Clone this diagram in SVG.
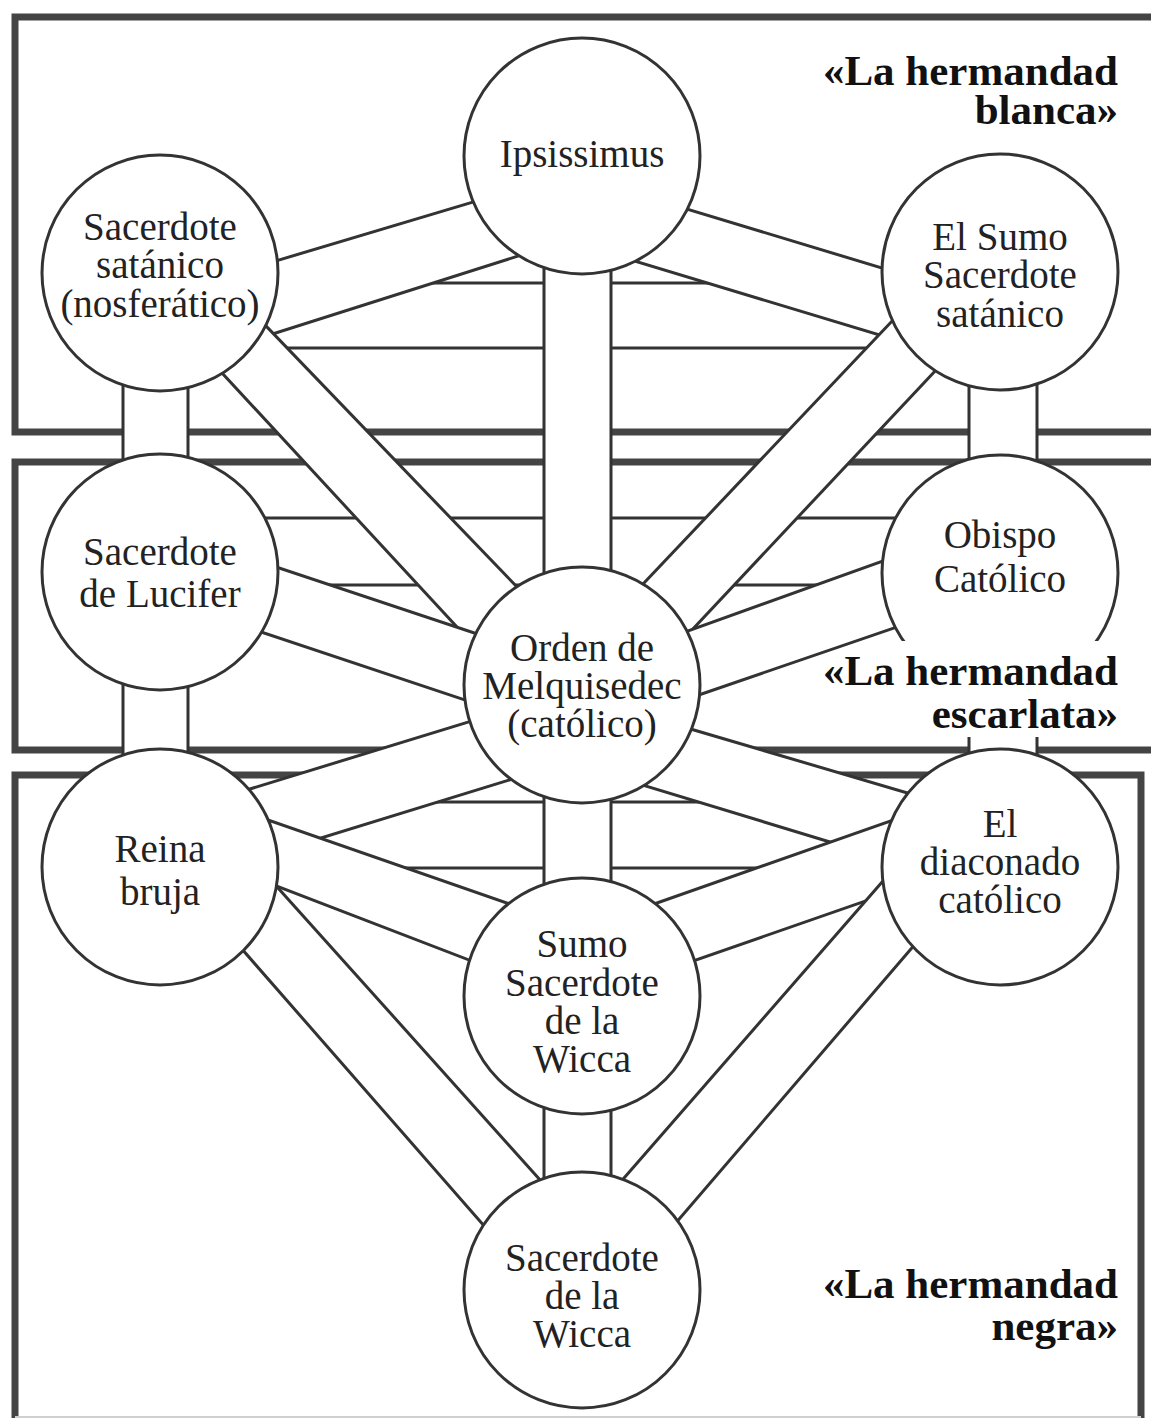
<svg xmlns="http://www.w3.org/2000/svg" width="1151" height="1418" viewBox="0 0 1151 1418">
<style>
.box{fill:none;stroke:#444;stroke-width:7}
.ch{fill:#fff;stroke:#333;stroke-width:3;stroke-linejoin:round}
.nd circle{fill:#fff;stroke:#333;stroke-width:3}
.t{font-family:"Liberation Serif","Times New Roman",serif;font-size:39px;fill:#222;text-anchor:middle}
.lab{font-family:"Liberation Serif","Times New Roman",serif;font-weight:bold;font-size:43px;fill:#111;text-anchor:end}
</style>
<rect width="1151" height="1418" fill="#fff"/>
<g id="regions">
<path class="box" d="M1160,17 H15 V432 H1160"/>
<path class="box" d="M1160,462 H15 V750 H1160"/>
<path class="box" d="M15,1430 V775 H1141 V1430"/>
<line x1="15" y1="1417" x2="1141" y2="1417" stroke="#d0d0d0" stroke-width="2"/>
</g>
<g id="connectors">
<polygon class="ch" points="200,283 960,283 960,348 200,348"/>
<polygon class="ch" points="200,518 960,518 960,585 200,585"/>
<polygon class="ch" points="200,802 960,802 960,868 200,868"/>
<polygon class="ch" points="544,200 544,640 611,640 611,200"/>
<polygon class="ch" points="544,730 544,950 611,950 611,730"/>
<polygon class="ch" points="544,1040 544,1240 611,1240 611,1040"/>
<polygon class="ch" points="123,320 123,520 188,520 188,320"/>
<polygon class="ch" points="969,320 969,520 1037,520 1037,320"/>
<polygon class="ch" points="123,620 123,820 188,820 188,620"/>
<polygon class="ch" points="969,620 969,820 1037,820 1037,620"/>
<polygon class="ch" points="200,283.6 540,182 560,242.7 200,357"/>
<polygon class="ch" points="630,191.9 960,291.6 960,359.2 610,253.6"/>
<polygon class="ch" points="241,300 568,640 506,680 173,320"/>
<polygon class="ch" points="912,300 590,640 645,680 983,320"/>
<polygon class="ch" points="200,541.7 540,654.8 540,725 200,611.7"/>
<polygon class="ch" points="960,533.3 620,655.4 620,722 960,605.3"/>
<polygon class="ch" points="200,804.3 540,700 560,764.3 200,875.3"/>
<polygon class="ch" points="620,708.2 960,808.5 960,881.5 600,772.1"/>
<polygon class="ch" points="200,796.4 560,921.4 540,987.3 200,856.6"/>
<polygon class="ch" points="960,796.7 600,923 620,986.4 960,868.2"/>
<polygon class="ch" points="910,850 570,1240 644,1260 953,900"/>
<polygon class="ch" points="244,850 594,1240 514,1260 199,900"/>
</g>
<g id="n-ipsissimus" class="nd"><circle cx="582" cy="156" r="118"/><text class="t" x="582" y="167">Ipsissimus</text></g>
<g id="n-sacerdote-satanico" class="nd"><circle cx="160" cy="273" r="118"/><text class="t"><tspan x="160" y="240">Sacerdote</tspan><tspan x="160" y="278">satánico</tspan><tspan x="160" y="317">(nosferático)</tspan></text></g>
<g id="n-sumo-sacerdote-satanico" class="nd"><circle cx="1000" cy="272" r="118"/><text class="t"><tspan x="1000" y="250">El Sumo</tspan><tspan x="1000" y="288">Sacerdote</tspan><tspan x="1000" y="327">satánico</tspan></text></g>
<g id="n-lucifer" class="nd"><circle cx="160" cy="572" r="118"/><text class="t"><tspan x="160" y="565">Sacerdote</tspan><tspan x="160" y="607">de Lucifer</tspan></text></g>
<g id="n-obispo" class="nd"><circle cx="1000" cy="573" r="118"/><text class="t"><tspan x="1000" y="548">Obispo</tspan><tspan x="1000" y="592">Católico</tspan></text></g>
<g id="n-melquisedec" class="nd"><circle cx="582" cy="685" r="118"/><text class="t"><tspan x="582" y="661">Orden de</tspan><tspan x="582" y="699">Melquisedec</tspan><tspan x="582" y="737">(católico)</tspan></text></g>
<g id="n-reina-bruja" class="nd"><circle cx="160" cy="867" r="118"/><text class="t"><tspan x="160" y="862">Reina</tspan><tspan x="160" y="905">bruja</tspan></text></g>
<g id="n-diaconado" class="nd"><circle cx="1000" cy="867" r="118"/><text class="t"><tspan x="1000" y="837">El</tspan><tspan x="1000" y="875">diaconado</tspan><tspan x="1000" y="913">católico</tspan></text></g>
<g id="n-sumo-wicca" class="nd"><circle cx="582" cy="996" r="118"/><text class="t"><tspan x="582" y="957">Sumo</tspan><tspan x="582" y="996">Sacerdote</tspan><tspan x="582" y="1034">de la</tspan><tspan x="582" y="1072">Wicca</tspan></text></g>
<g id="n-wicca" class="nd"><circle cx="582" cy="1290" r="118"/><text class="t"><tspan x="582" y="1271">Sacerdote</tspan><tspan x="582" y="1309">de la</tspan><tspan x="582" y="1347">Wicca</tspan></text></g>
<g id="label-blanca"><text class="lab"><tspan x="1118" y="85">«La hermandad</tspan><tspan x="1118" y="124">blanca»</tspan></text></g>
<g id="label-escarlata"><rect x="893" y="641" width="222" height="96" fill="#fff"/><text class="lab"><tspan x="1118" y="685">«La hermandad</tspan><tspan x="1118" y="728">escarlata»</tspan></text></g>
<g id="label-negra"><text class="lab"><tspan x="1118" y="1298">«La hermandad</tspan><tspan x="1118" y="1340">negra»</tspan></text></g>
</svg>
